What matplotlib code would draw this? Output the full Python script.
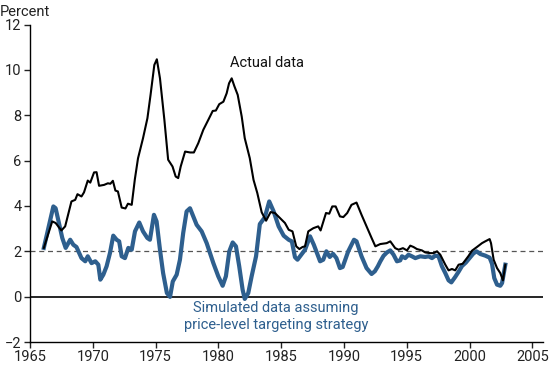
import matplotlib
matplotlib.use("Agg")
import matplotlib.pyplot as plt

plt.rcParams['font.family'] = ['Roboto', 'DejaVu Sans']

actual_years = [1966.1, 1966.77, 1967.04, 1967.5, 1967.8, 1968.3, 1968.6, 1968.78, 1969.1, 1969.3,
                1969.6, 1969.8, 1970.1, 1970.3, 1970.5, 1970.9, 1971.2, 1971.4, 1971.6, 1971.8,
                1972.0, 1972.3, 1972.6, 1972.8, 1973.1, 1973.35, 1973.6, 1974.0, 1974.35, 1974.6,
                1974.9, 1975.1, 1975.35, 1975.7, 1976.0, 1976.35, 1976.6, 1976.8, 1977.0, 1977.35,
                1977.75, 1978.05, 1978.4, 1978.8, 1979.2, 1979.55, 1979.8, 1980.07, 1980.4, 1980.66,
                1980.85, 1981.06, 1981.27, 1981.54, 1981.86, 1982.1, 1982.5, 1982.8, 1983.1, 1983.45,
                1983.8, 1984.16, 1984.5, 1984.9, 1985.3, 1985.6, 1985.9, 1986.2, 1986.45, 1986.7,
                1986.9, 1987.16, 1987.56, 1987.95, 1988.14, 1988.57, 1988.83, 1989.07, 1989.34, 1989.68,
                1989.95, 1990.26, 1990.6, 1991.0, 1991.4, 1991.8, 1992.2, 1992.5, 1992.89, 1993.4,
                1993.69, 1994.08, 1994.35, 1994.7, 1995.02, 1995.28, 1995.54, 1995.81, 1996.21, 1996.47,
                1996.87, 1997.14, 1997.41, 1997.67, 1998.07, 1998.33, 1998.6, 1998.86, 1999.13, 1999.45,
                1999.9, 2000.2, 2000.59, 2000.99, 2001.25, 2001.6, 2001.71, 2001.92, 2002.19, 2002.45,
                2002.66, 2002.85]
actual_vals = [2.15, 3.32, 3.25, 2.92, 3.1, 4.2, 4.27, 4.52, 4.42, 4.6,
               5.12, 5.03, 5.48, 5.49, 4.89, 4.93, 5.0, 4.98, 5.11, 4.68,
               4.64, 3.93, 3.89, 4.1, 4.05, 5.18, 6.1, 6.99, 7.87, 8.9,
               10.22, 10.47, 9.63, 7.8, 6.04, 5.74, 5.3, 5.23, 5.74, 6.4,
               6.36, 6.36, 6.77, 7.36, 7.8, 8.19, 8.21, 8.49, 8.6, 8.97,
               9.41, 9.63, 9.29, 8.9, 7.94, 6.99, 6.11, 5.15, 4.57, 3.72,
               3.35, 3.73, 3.69, 3.47, 3.25, 2.95, 2.88, 2.22, 2.1, 2.19,
               2.22, 2.88, 3.02, 3.1, 2.92, 3.69, 3.66, 3.98, 3.98, 3.54,
               3.51, 3.69, 4.05, 4.15, 3.61, 3.1, 2.59, 2.22, 2.32, 2.36,
               2.44, 2.14, 2.07, 2.14, 2.04, 2.25, 2.19, 2.1, 2.04, 1.95,
               1.92, 1.92, 2.0, 1.85, 1.41, 1.16, 1.22, 1.16, 1.41, 1.45,
               1.78, 2.03, 2.19, 2.36, 2.44, 2.54, 2.36, 1.63, 1.26, 1.04,
               0.72, 1.41]

sim_years = [1966.1, 1966.86, 1967.04, 1967.3, 1967.57, 1967.84, 1968.2, 1968.45, 1968.7, 1969.1,
             1969.4, 1969.6, 1969.9, 1970.2, 1970.44, 1970.6, 1970.84, 1971.1, 1971.37, 1971.63,
             1971.9, 1972.1, 1972.3, 1972.56, 1972.83, 1973.1, 1973.36, 1973.7, 1974.0, 1974.34,
             1974.55, 1974.87, 1975.08, 1975.35, 1975.6, 1975.9, 1976.15, 1976.37, 1976.68, 1976.94,
             1977.2, 1977.47, 1977.74, 1978.0, 1978.27, 1978.67, 1979.07, 1979.6, 1979.99, 1980.34,
             1980.6, 1980.87, 1981.14, 1981.4, 1981.66, 1981.93, 1982.1, 1982.38, 1982.65, 1983.0,
             1983.3, 1983.7, 1984.05, 1984.4, 1984.8, 1985.2, 1985.6, 1985.85, 1986.1, 1986.3,
             1986.6, 1986.9, 1987.3, 1987.6, 1988.1, 1988.35, 1988.6, 1988.87, 1989.13, 1989.4,
             1989.68, 1989.9, 1990.34, 1990.8, 1991.0, 1991.4, 1991.8, 1992.2, 1992.46, 1992.7,
             1992.89, 1993.15, 1993.42, 1993.69, 1993.95, 1994.22, 1994.48, 1994.62, 1994.88, 1995.14,
             1995.41, 1995.68, 1996.08, 1996.47, 1996.74, 1997.01, 1997.27, 1997.53, 1997.8, 1998.07,
             1998.33, 1998.55, 1998.86, 1999.13, 1999.4, 1999.7, 2000.0, 2000.3, 2000.55, 2000.86,
             2001.25, 2001.6, 2001.79, 2001.97, 2002.19, 2002.45, 2002.59, 2002.85]
sim_vals = [2.15, 3.98, 3.9, 3.25, 2.59, 2.15, 2.51, 2.29, 2.19, 1.7,
            1.56, 1.78, 1.48, 1.56, 1.41, 0.75, 0.97, 1.34, 1.93, 2.69,
            2.51, 2.44, 1.78, 1.7, 2.15, 2.07, 2.88, 3.27, 2.88, 2.59,
            2.51, 3.61, 3.32, 2.07, 1.04, 0.16, -0.01, 0.67, 0.97, 1.63,
            2.81, 3.76, 3.9, 3.54, 3.17, 2.88, 2.36, 1.48, 0.9, 0.48,
            0.9, 2.0, 2.39, 2.22, 1.34, 0.31, -0.1, 0.16, 0.9, 1.78,
            3.2, 3.5, 4.2, 3.76, 3.1, 2.69, 2.51, 2.44, 1.74, 1.63,
            1.85, 2.07, 2.66, 2.29, 1.56, 1.63, 2.0, 1.75, 1.89, 1.7,
            1.26, 1.31, 2.0, 2.51, 2.44, 1.78, 1.26, 1.0, 1.12, 1.34,
            1.55, 1.8, 1.95, 2.04, 1.85, 1.56, 1.6, 1.78, 1.7, 1.85,
            1.78, 1.7, 1.78, 1.75, 1.78, 1.7, 1.81, 1.78, 1.34, 1.04,
            0.72, 0.63, 0.87, 1.1, 1.35, 1.5, 1.7, 1.9, 2.0, 1.88,
            1.81, 1.72, 1.45, 0.82, 0.53, 0.48, 0.6, 1.41]

x_ticks = [1965, 1970, 1975, 1980, 1985, 1990, 1995, 2000, 2005]
y_ticks = [-2, 0, 2, 4, 6, 8, 10, 12]

BLUE = '#2e5f8e'

fig = plt.figure(figsize=(5.5, 3.65), dpi=100)
ax = fig.add_axes([30 / 550, 23 / 365, 513 / 550, (342 - 24.6) / 365])

ax.axhline(0, color='black', lw=1.2, zorder=1)
ax.axhline(2, color='#555555', lw=0.9, ls=(0, (4, 3)), zorder=1)

ax.plot(sim_years, sim_vals, color=BLUE, lw=3.0, solid_joinstyle='round', zorder=2)
ax.plot(actual_years, actual_vals, color='black', lw=1.5, solid_joinstyle='round', zorder=3)

ax.set_xlim(1965, 2005.85)
ax.set_ylim(-2, 12)
ax.set_xticks(x_ticks)
ax.set_yticks(y_ticks)
ax.tick_params(axis='both', labelsize=10.5, colors='#222222', length=4, width=1)
ax.tick_params(axis='x', pad=2)
ax.tick_params(axis='y', pad=2)
for s in ['top', 'right']:
    ax.spines[s].set_visible(False)
for s in ['left', 'bottom']:
    ax.spines[s].set_linewidth(1.0)
    ax.spines[s].set_color('black')

ax.text(1983.9, 10.3, 'Actual data', fontsize=10.5, ha='center', va='center', color='#111111')
ax.text(1984.6, -0.88, 'Simulated data assuming\nprice-level targeting strategy', fontsize=10.5,
        ha='center', va='center', color=BLUE, linespacing=1.25)

fig.text(0.0, 1 - 12 / 365, 'Percent', fontsize=10.5, ha='left', va='center', color='#222222')

fig.savefig('out.png', dpi=100)
